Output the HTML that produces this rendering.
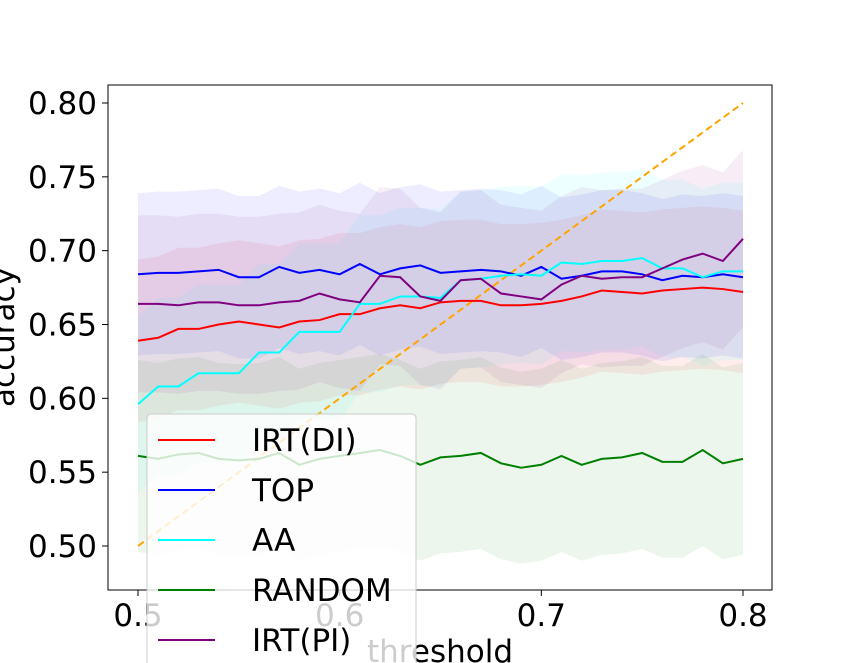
<!DOCTYPE html>
<html><head><meta charset="utf-8"><style>
body{margin:0;background:#fff;}
svg{display:block;font-family:"DejaVu Sans","Liberation Sans",sans-serif;}
</style></head><body>
<svg id="chart" width="859" height="663"></svg>
<script>
const thresholds=[0.5,0.51,0.52,0.53,0.54,0.55,0.56,0.57,0.58,0.59,0.6,0.61,0.62,0.63,0.64,0.65,0.66,0.67,0.68,0.69,0.7,0.71,0.72,0.73,0.74,0.75,0.76,0.77,0.78,0.79,0.8];
const irtDI=[0.639,0.641,0.647,0.647,0.650,0.652,0.650,0.648,0.652,0.653,0.657,0.657,0.661,0.663,0.661,0.665,0.666,0.666,0.663,0.663,0.664,0.666,0.669,0.673,0.672,0.671,0.673,0.674,0.675,0.674,0.672];
const top1=[0.684,0.685,0.685,0.686,0.687,0.682,0.682,0.689,0.685,0.687,0.684,0.691,0.684,0.688,0.690,0.685,0.686,0.687,0.686,0.683,0.689,0.681,0.683,0.686,0.686,0.684,0.680,0.683,0.682,0.684,0.682];
const aa=[0.596,0.608,0.608,0.617,0.617,0.617,0.631,0.631,0.645,0.645,0.645,0.664,0.664,0.669,0.669,0.668,0.680,0.681,0.683,0.684,0.683,0.692,0.691,0.693,0.693,0.695,0.688,0.688,0.682,0.686,0.686];
const random=[0.561,0.559,0.562,0.563,0.559,0.558,0.559,0.563,0.555,0.559,0.561,0.563,0.565,0.561,0.555,0.560,0.561,0.563,0.556,0.553,0.555,0.561,0.555,0.559,0.560,0.563,0.557,0.557,0.565,0.556,0.559];
const irtPI=[0.664,0.664,0.663,0.665,0.665,0.663,0.663,0.665,0.666,0.671,0.667,0.665,0.683,0.682,0.669,0.666,0.680,0.681,0.671,0.669,0.667,0.677,0.683,0.681,0.682,0.682,0.688,0.694,0.698,0.693,0.708];
const bandWidths=[0.055,0.055,0.06,0.065,0.06];
const xTicks=[0.5,0.6,0.7,0.8];
const xTickLabels=["0.5","0.6","0.7","0.8"];
const yTicks=[0.5,0.55,0.6,0.65,0.7,0.75,0.8];
const yTickLabels=["0.50","0.55","0.60","0.65","0.70","0.75","0.80"];
const seriesNames=["IRT(DI)","TOP","AA","RANDOM","IRT(PI)"];
const seriesColors=["#ff0000","#0000ff","#00ffff","#008000","#800080"];
const seriesData=[irtDI,top1,aa,random,irtPI];

const NS="http://www.w3.org/2000/svg";
const svg=document.getElementById('chart');
const X=v=>138+(v-0.5)*(605/0.3);
const Y=v=>546-(v-0.5)*(443/0.3);
function mk(t,a,p){const e=document.createElementNS(NS,t);for(const k in a)e.setAttribute(k,a[k]);(p||svg).appendChild(e);return e;}

const bands=mk('g',{});


seriesData.forEach((d,i)=>{
  const w=bandWidths[i];
  let pts=d.map((v,j)=>X(thresholds[j])+','+Y(v+w));
  pts=pts.concat(d.map((v,j)=>X(thresholds[j])+','+Y(v-w)).reverse());
  const p=mk('polygon',{points:pts.join(' '),fill:seriesColors[i],'fill-opacity':0.07},bands);
  
  
});
const diag=mk('line',{x1:X(0.5),y1:Y(0.5),x2:X(0.8),y2:Y(0.8),stroke:'#ffa500','stroke-width':2,'stroke-dasharray':'7,4'});


seriesData.forEach((d,i)=>{
  const p=mk('polyline',{points:d.map((v,j)=>X(thresholds[j])+','+Y(v)).join(' '),fill:'none',stroke:seriesColors[i],'stroke-width':2});
  
  
});
const frame=mk('rect',{x:108,y:85,width:664,height:505,fill:'none',stroke:'#000','stroke-width':1});


xTicks.forEach((t,i)=>{
  mk('line',{x1:X(t),x2:X(t),y1:590,y2:596,stroke:'#000'});
  const tx=mk('text',{x:X(t),y:626,'font-size':31,'text-anchor':'middle'});
  tx.textContent=xTickLabels[i];
  
  
});
yTicks.forEach((t,i)=>{
  mk('line',{x1:102,x2:108,y1:Y(t),y2:Y(t),stroke:'#000'});
  const tx=mk('text',{x:97,y:Y(t)+11,'font-size':31,'text-anchor':'end'});
  tx.textContent=yTickLabels[i];
  
  
});
const xt=mk('text',{x:440,y:662,'font-size':31,'text-anchor':'middle'});
xt.textContent='threshold';


const yt=mk('text',{x:0,y:0,'font-size':31,'text-anchor':'middle',transform:'translate(14,337) rotate(-90)'});
yt.textContent='accuracy';


const lg=mk('g',{});


mk('rect',{x:147,y:414,width:269,height:270,rx:4,fill:'#fff','fill-opacity':0.8,stroke:'#ccc'},lg);
seriesNames.forEach((n,i)=>{
  const y=440+i*50;
  const e=mk('g',{},lg);
  
  
  mk('line',{x1:158,x2:215,y1:y,y2:y,stroke:seriesColors[i],'stroke-width':2},e);
  const t=mk('text',{x:252,y:y+11,'font-size':31},e);
  t.textContent=n;
});
</script>
</body></html>
